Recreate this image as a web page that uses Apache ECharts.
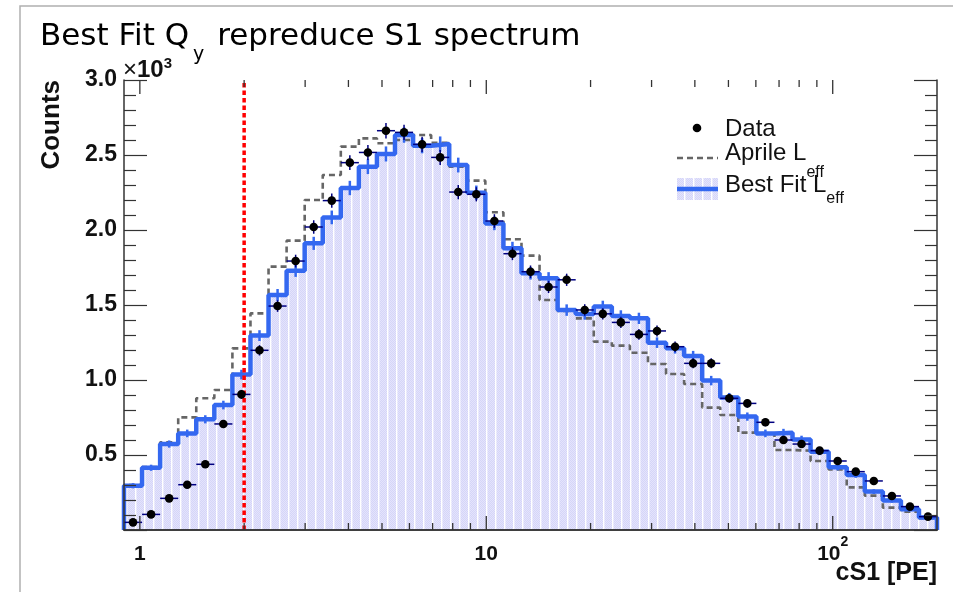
<!DOCTYPE html>
<html>
<head>
<meta charset="utf-8">
<script src="https://cdn.jsdelivr.net/npm/echarts@6/dist/echarts.min.js"></script>
<style>
  html, body { margin: 0; padding: 0; background: #fff; }
  #chart { width: 953px; height: 592px; }
</style>
</head>
<body>
<div id="chart"></div>
<script>
// Log-spaced cS1 bin edges [PE] (45 bins, 0.9 .. 200)
const binEdges = [0.9, 1.0148, 1.1443, 1.2903, 1.4549, 1.6406, 1.8499, 2.0860, 2.3521, 2.6523,
  2.9907, 3.3723, 3.8026, 4.2878, 4.8349, 5.4518, 6.1474, 6.9318, 7.8163, 8.8137,
  9.9381, 11.206, 12.636, 14.249, 16.067, 18.117, 20.429, 23.036, 25.975, 29.290,
  33.027, 37.241, 41.993, 47.351, 53.393, 60.206, 67.888, 76.550, 86.318, 97.331,
  109.75, 123.75, 139.54, 157.35, 177.42, 200];

// Measured spectrum (counts per bin)
const dataCounts = [51, 104, 211, 302, 438, 707, 904, 1198, 1493, 1793,
  2020, 2196, 2449, 2517, 2662, 2651, 2571, 2484, 2253, 2238,
  2060, 1842, 1722, 1620, 1668, 1467, 1441, 1384, 1304, 1327,
  1222, 1111, 1111, 878, 844, 718, 600, 573, 529, 460,
  389, 327, 227, 156, 89];

// Simulated spectrum with the Aprile L_eff
const aprileCounts = [300, 420, 585, 751, 878, 933, 1211, 1444, 1756, 1929,
  2200, 2367, 2556, 2611, 2578, 2600, 2633, 2582, 2422, 2329,
  2118, 1938, 1829, 1533, 1460, 1411, 1256, 1229, 1182, 1107,
  1040, 973, 816, 767, 649, 640, 533, 529, 460, 404,
  284, 229, 149, 122, 78];

// Simulated spectrum with the best-fit L_eff
const bestFitCounts = [295, 415, 573, 644, 738, 833, 1036, 1296, 1567, 1729,
  1911, 2084, 2280, 2422, 2507, 2633, 2562, 2573, 2433, 2249,
  2044, 1878, 1711, 1678, 1466, 1440, 1490, 1427, 1411, 1249,
  1211, 1160, 996, 884, 756, 644, 649, 604, 522, 418,
  367, 256, 196, 138, 84];

// S1 analysis threshold [PE]
const s1Threshold = 2;

// Axis ticks
const xMajorTicks = [1, 10, 100];
const xMinorTicks = [2, 3, 4, 5, 6, 7, 8, 9, 20, 30, 40, 50, 60, 70, 80, 90];
const yMax = 3000;

const FONT = 'Liberation Sans, Arial, Helvetica, sans-serif';
const BLUE = '#3468f0';
const GRAY = '#666666';

// Light lavender hatch used for the best-fit fill
function makeHatch() {
  const c = document.createElement('canvas');
  c.width = 9; c.height = 4;
  const g = c.getContext('2d');
  g.fillStyle = '#d5d5f8';
  g.fillRect(0, 0, 9, 4);
  g.fillStyle = '#e4e4fc';
  for (let y = 0; y < 4; y++) {
    for (let x = (y % 2); x < 9; x += 2) g.fillRect(x, y, 1, 1);
  }
  g.fillStyle = '#ffffff';
  g.fillRect(0, 0, 1.4, 4);
  return c;
}
const hatch = makeHatch();

function stepPoints(counts) {
  const pts = [[binEdges[0], 0]];
  counts.forEach((v, i) => pts.push([binEdges[i], v]));
  pts.push([binEdges[counts.length], counts[counts.length - 1]]);
  pts.push([binEdges[counts.length], 0]);
  return pts;
}
function centred(counts) {
  return counts.map((v, i) => [Math.sqrt(binEdges[i] * binEdges[i + 1]), v, i]);
}

const chart = echarts.init(document.getElementById('chart'), null, { renderer: 'canvas' });

const xAxisBase = {
  type: 'log', logBase: 10, min: 0.9, max: 200, z: 10,
  axisLine: { show: true, lineStyle: { color: '#333', width: 1.5 } },
  axisTick: { show: false }, splitLine: { show: false }, minorTick: { show: false }
};
const yAxisBase = {
  type: 'value', min: 0, max: yMax, interval: 500, z: 10,
  axisLine: { show: true, lineStyle: { color: '#333', width: 1.5 } },
  axisTick: { show: true, inside: true, length: 23, lineStyle: { color: '#333', width: 1.2 } },
  minorTick: { show: true, splitNumber: 5, length: 12, lineStyle: { color: '#333', width: 1.2 } },
  splitLine: { show: false }
};

const option = {
  animation: false,
  backgroundColor: '#fff',
  grid: { left: 124, right: 16, top: 80, bottom: 62, containLabel: false },
  xAxis: [
    Object.assign({}, xAxisBase, {
      position: 'bottom',
      axisLabel: {
        show: true, margin: 5, showMinLabel: false, showMaxLabel: false,
        formatter: function (v) {
          const r = Math.round(v);
          return r === 100 ? '{n|10}{s|2}' : '{n|' + r + '}';
        },
        rich: {
          n: { fontFamily: FONT, fontWeight: 'bold', fontSize: 21, color: '#111', lineHeight: 30, verticalAlign: 'bottom' },
          s: { fontFamily: FONT, fontWeight: 'bold', fontSize: 14, color: '#111', lineHeight: 30, verticalAlign: 'top' }
        }
      }
    }),
    Object.assign({}, xAxisBase, { position: 'top', axisLabel: { show: false } })
  ],
  yAxis: [
    Object.assign({}, yAxisBase, {
      position: 'left',
      axisLabel: {
        show: true, margin: 7, showMinLabel: false,
        fontFamily: FONT, fontWeight: 'bold', fontSize: 23, color: '#111',
        formatter: v => (v / 1000).toFixed(1)
      }
    }),
    Object.assign({}, yAxisBase, { position: 'right', axisLabel: { show: false } })
  ],
  series: [
    {
      name: 'fill', type: 'line', step: 'end', z: 1, silent: true,
      data: stepPoints(bestFitCounts), showSymbol: false, symbol: 'none',
      lineStyle: { width: 0, opacity: 0 },
      areaStyle: { color: { image: hatch, repeat: 'repeat' }, opacity: 1 }
    },
    {
      name: 'Aprile L_eff', type: 'line', step: 'end', z: 2, silent: true,
      data: stepPoints(aprileCounts), showSymbol: false, symbol: 'none',
      lineStyle: { color: GRAY, width: 2.6, type: [6, 4] }
    },
    {
      name: 'Best Fit L_eff', type: 'line', step: 'end', z: 3, silent: true,
      data: stepPoints(bestFitCounts), showSymbol: false, symbol: 'none',
      lineStyle: { color: BLUE, width: 4.5 }
    },
    {
      // statistical error bars of the best-fit histogram
      name: 'fit errors', type: 'custom', z: 4, silent: true,
      data: centred(bestFitCounts),
      encode: { x: 0, y: 1 },
      renderItem: function (params, api) {
        const x = api.value(0), v = api.value(1), e = Math.sqrt(v);
        const t = api.coord([x, v + e]), b = api.coord([x, v - e]);
        return { type: 'line', shape: { x1: t[0], y1: t[1], x2: b[0], y2: b[1] },
          style: { stroke: BLUE, lineWidth: 2.5 } };
      }
    },
    {
      name: 'threshold', type: 'line', z: 5, silent: true,
      data: [[s1Threshold, 0], [s1Threshold, yMax]], showSymbol: false, symbol: 'none',
      lineStyle: { color: '#ff0000', width: 3.5, type: [4.5, 3] }
    },
    {
      name: 'Data', type: 'custom', z: 6, silent: true,
      data: centred(dataCounts),
      encode: { x: 0, y: 1 },
      renderItem: function (params, api) {
        const x = api.value(0), v = api.value(1), i = api.value(2);
        const e = Math.sqrt(v);
        const c = api.coord([x, v]);
        const l = api.coord([binEdges[i], v]), r = api.coord([binEdges[i + 1], v]);
        const t = api.coord([x, v + e]), b = api.coord([x, v - e]);
        return { type: 'group', children: [
          { type: 'line', shape: { x1: l[0], y1: c[1], x2: r[0], y2: c[1] }, style: { stroke: '#000080', lineWidth: 1.5 } },
          { type: 'line', shape: { x1: c[0], y1: t[1], x2: c[0], y2: b[1] }, style: { stroke: '#000080', lineWidth: 1.5 } },
          { type: 'circle', shape: { cx: c[0], cy: c[1], r: 4.3 }, style: { fill: '#000' } }
        ] };
      }
    },
    {
      // log-axis major and minor ticks on the bottom and top frame
      name: 'x ticks', type: 'custom', z: 8, silent: true, clip: false,
      data: xMajorTicks.map(v => [v, 0, 1]).concat(xMinorTicks.map(v => [v, 0, 0])),
      encode: { x: 0, y: 1 },
      renderItem: function (params, api) {
        const v = api.value(0), len = api.value(2) ? 14 : 7;
        const b = api.coord([v, 0]), t = api.coord([v, yMax]);
        const st = { stroke: '#333', lineWidth: 1.3 };
        return { type: 'group', children: [
          { type: 'line', shape: { x1: b[0], y1: b[1], x2: b[0], y2: b[1] - len }, style: st },
          { type: 'line', shape: { x1: t[0], y1: t[1], x2: t[0], y2: t[1] + len }, style: st }
        ] };
      }
    }
  ],
  graphic: [
    // canvas frame
    { type: 'rect', shape: { x: 20, y: 6, width: 960, height: 620 }, style: { fill: 'none', stroke: '#b0b0b0', lineWidth: 1.5 }, z: 0 },
    // title
    { type: 'text', x: 40, y: 21, z: 20, style: {
        text: '{m|Best Fit Q}{s|y}{m| repreduce S1 spectrum}',
        rich: {
          m: { fontFamily: 'DejaVu Sans', fontSize: 31, lineHeight: 33, verticalAlign: 'top', fill: '#000' },
          s: { fontFamily: 'DejaVu Sans', fontSize: 19, lineHeight: 44, verticalAlign: 'bottom', fill: '#000', padding: [0, 3, 0, 4] }
        }
    } },
    // axis multiplier
    { type: 'text', x: 123, y: 56, z: 20, style: {
        text: '{tm|×}{tn|10}{tp|3}',
        rich: {
          tm: { fontFamily: FONT, fontSize: 24, lineHeight: 26, verticalAlign: 'bottom', fill: '#111' },
          tn: { fontFamily: FONT, fontWeight: 'bold', fontSize: 24, lineHeight: 26, verticalAlign: 'bottom', fill: '#111' },
          tp: { fontFamily: FONT, fontWeight: 'bold', fontSize: 15, lineHeight: 26, verticalAlign: 'top', fill: '#111' }
        }
    } },
    // axis titles
    { type: 'text', x: 52, y: 80, rotation: Math.PI / 2, z: 20, style: {
        text: 'Counts', fontFamily: FONT, fontWeight: 'bold', fontSize: 26, fill: '#111',
        align: 'right', verticalAlign: 'middle'
    } },
    { type: 'text', x: 937, y: 573, z: 20, style: {
        text: 'cS1 [PE]', fontFamily: FONT, fontWeight: 'bold', fontSize: 25, fill: '#111',
        align: 'right', verticalAlign: 'middle'
    } },
    // legend
    { type: 'circle', shape: { cx: 697, cy: 128, r: 4.3 }, style: { fill: '#000' }, z: 20 },
    { type: 'text', x: 725, y: 129, z: 20, style: {
        text: 'Data', fontFamily: FONT, fontSize: 24, fill: '#111', verticalAlign: 'middle'
    } },
    { type: 'line', shape: { x1: 677, y1: 158, x2: 718, y2: 158 }, style: { stroke: GRAY, lineWidth: 2.6, lineDash: [6, 4] }, z: 20 },
    { type: 'text', x: 725, y: 141, z: 20, style: {
        text: '{m|Aprile L}{s|eff}',
        rich: {
          m: { fontFamily: FONT, fontSize: 24, lineHeight: 24, verticalAlign: 'top', fill: '#111' },
          s: { fontFamily: FONT, fontSize: 16, lineHeight: 40, verticalAlign: 'bottom', fill: '#111' }
        }
    } },
    { type: 'rect', shape: { x: 677, y: 178, width: 41, height: 22 }, style: { fill: { image: hatch, repeat: 'repeat' } }, z: 20 },
    { type: 'line', shape: { x1: 677, y1: 189, x2: 718, y2: 189 }, style: { stroke: BLUE, lineWidth: 4.5 }, z: 21 },
    { type: 'text', x: 725, y: 173, z: 20, style: {
        text: '{m|Best Fit L}{s|eff}',
        rich: {
          m: { fontFamily: FONT, fontSize: 24, lineHeight: 24, verticalAlign: 'top', fill: '#111' },
          s: { fontFamily: FONT, fontSize: 16, lineHeight: 34, verticalAlign: 'bottom', fill: '#111' }
        }
    } }
  ]
};

chart.setOption(option);
</script>
</body>
</html>
